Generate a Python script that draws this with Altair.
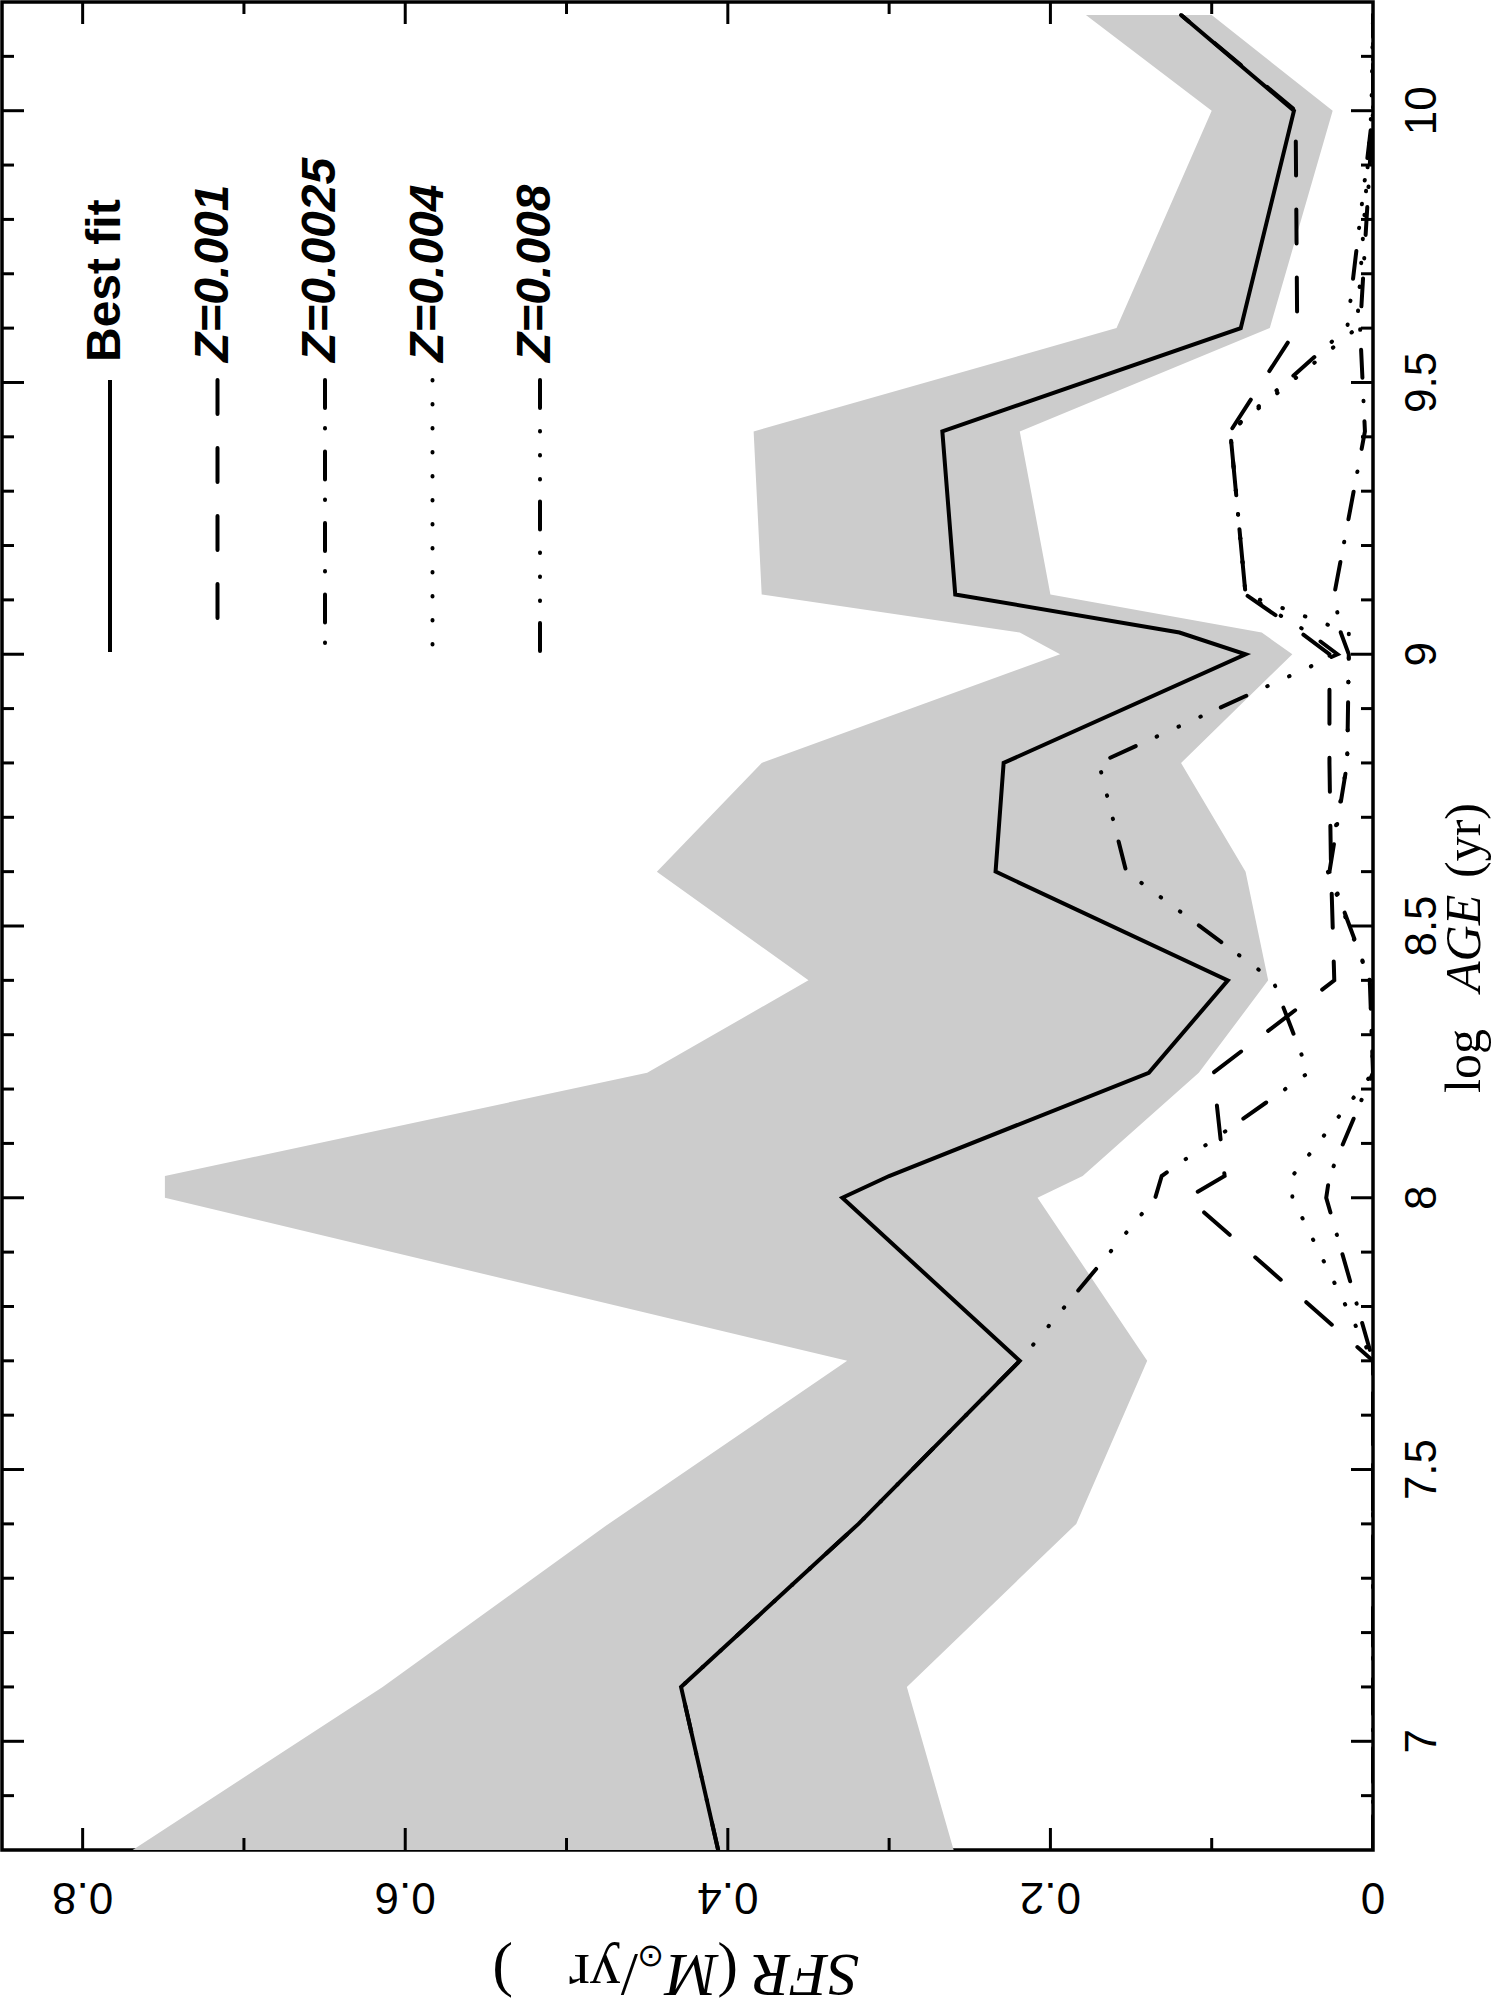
import altair as alt
import pandas as pd

# ---------------- data ----------------
AGES = [6.8, 7.1, 7.4, 7.7, 8.0, 8.04, 8.23, 8.4, 8.6, 8.8, 9.0, 9.04, 9.11, 9.41, 9.6, 10.0, 10.176]
BEST_FIT = [0.406, 0.429, 0.319, 0.219, 0.329, 0.300, 0.139, 0.090, 0.234, 0.229, 0.079, 0.120, 0.259, 0.267, 0.082, 0.049, 0.119]
BAND_HIGH = [0.769, 0.614, 0.474, 0.326, 0.749, 0.749, 0.450, 0.350, 0.444, 0.379, 0.194, 0.219, 0.379, 0.384, 0.159, 0.100, 0.178]
BAND_LOW = [0.260, 0.289, 0.184, 0.140, 0.208, 0.180, 0.108, 0.065, 0.079, 0.119, 0.050, 0.069, 0.200, 0.219, 0.064, 0.025, 0.100]
Z_0001 = [0.0, 0.0, 0.0, 0.0, 0.115, 0.092, 0.099, 0.024, 0.026, 0.027, 0.027, 0.045, 0.079, 0.0885, 0.047, 0.048, 0.119]
Z_00025 = [0.0, 0.0, 0.0, 0.0, 0.029, 0.027, 0.0, 0.002, 0.027, 0.016, 0.015, 0.020, 0.024, 0.005, 0.008, 0.0, 0.0]
Z_0004 = [0.0, 0.0, 0.0, 0.0, 0.050, 0.050, 0.0, 0.002, 0.028, 0.016, 0.015, 0.015, 0.079, 0.0885, 0.010, 0.001, 0.0]
Z_0008 = [0.406, 0.429, 0.319, 0.219, 0.135, 0.131, 0.040, 0.062, 0.153, 0.170, 0.022, 0.040, 0.079, 0.0885, 0.016, 0.0, 0.0]

SFR_LABELS = [0.0, 0.2, 0.4, 0.6, 0.8]
SFR_MAJOR = [0.2, 0.4, 0.6, 0.8]
SFR_MINOR = [0.1, 0.3, 0.5, 0.7]
AGE_LABELS = [7.0, 7.5, 8.0, 8.5, 9.0, 9.5, 10.0]
AGE_MINOR = [6.9, 7.1, 7.2, 7.3, 7.4, 7.6, 7.7, 7.8, 7.9, 8.1, 8.2, 8.3, 8.4, 8.6, 8.7, 8.8,
             8.9, 9.1, 9.2, 9.3, 9.4, 9.6, 9.7, 9.8, 9.9, 10.1]

LEGEND_LABELS = ["Best fit", "Z=0.001", "Z=0.0025", "Z=0.004", "Z=0.008"]

# ---------------- layout / style ----------------
W, H = 1371, 1848
TOTAL_W, TOTAL_H = 1493, 2016
SANS = "Liberation Sans"
SERIF = "Liberation Serif"
LW = 4
DASHES = {
    "Best fit": None,
    "Z=0.001": [34, 34],
    "Z=0.0025": [28, 20, 0.5, 23],
    "Z=0.004": [0.5, 23.5],
    "Z=0.008": [28, 23, 0.5, 23.5, 0.5, 23.5, 0.5, 22],
}

xscale = alt.Scale(domain=[0, 0.85], reverse=True, nice=False, zero=False)
yscale = alt.Scale(domain=[6.8, 10.2], nice=False, zero=False)

band_df = pd.DataFrame({"age": AGES, "lo": BAND_LOW, "hi": BAND_HIGH})

band = alt.Chart(band_df).mark_area(color="#cccccc", orient="horizontal").encode(
    y=alt.Y("age:Q", scale=yscale, axis=None),
    x=alt.X("lo:Q", scale=xscale, axis=None),
    x2="hi:Q",
)

series = [("Z=0.001", Z_0001), ("Z=0.0025", Z_00025), ("Z=0.004", Z_0004),
          ("Z=0.008", Z_0008), ("Best fit", BEST_FIT)]

line_layers = []
for name, vals in series:
    df = pd.DataFrame({"age": AGES, "sfr": vals})
    kw = dict(color="black", strokeWidth=LW, clip=True)
    if DASHES[name] is not None:
        kw["strokeDash"] = DASHES[name]
        kw["strokeCap"] = "round"
    line_layers.append(
        alt.Chart(df).mark_line(**kw).encode(
            x=alt.X("sfr:Q", scale=xscale, axis=None),
            y=alt.Y("age:Q", scale=yscale, axis=None),
            order="age:Q",
        )
    )

# inward ticks on all four sides
def xticks(vals, length):
    df = pd.DataFrame({"v": vals})
    bot = alt.Chart(df).mark_rule(color="black", strokeWidth=3).encode(
        x=alt.X("v:Q", scale=xscale, axis=None), y=alt.value(H), y2=alt.value(H - length))
    top = alt.Chart(df).mark_rule(color="black", strokeWidth=3).encode(
        x=alt.X("v:Q", scale=xscale, axis=None), y=alt.value(0), y2=alt.value(length))
    return [bot, top]

def yticks(vals, length):
    df = pd.DataFrame({"v": vals})
    left = alt.Chart(df).mark_rule(color="black", strokeWidth=3).encode(
        y=alt.Y("v:Q", scale=yscale, axis=None), x=alt.value(0), x2=alt.value(length))
    right = alt.Chart(df).mark_rule(color="black", strokeWidth=3).encode(
        y=alt.Y("v:Q", scale=yscale, axis=None), x=alt.value(W), x2=alt.value(W - length))
    return [left, right]

tick_layers = (xticks(SFR_MAJOR, 22) + xticks(SFR_MINOR, 12) +
               yticks(AGE_LABELS, 22) + yticks(AGE_MINOR, 12))

# tick labels (rotated like the reference), placed through the scales
xlab_df = pd.DataFrame({"v": SFR_LABELS, "t": [f"{v:g}" for v in SFR_LABELS]})
xlabels = alt.Chart(xlab_df).mark_text(angle=180, align="center", baseline="middle",
                                       font=SANS, fontSize=44, color="black").encode(
    x=alt.X("v:Q", scale=xscale, axis=None), y=alt.value(H + 46), text="t:N")
ylab_df = pd.DataFrame({"v": AGE_LABELS, "t": [f"{v:g}" for v in AGE_LABELS]})
ylabels = alt.Chart(ylab_df).mark_text(angle=270, align="center", baseline="middle",
                                       font=SANS, fontSize=44, color="black").encode(
    y=alt.Y("v:Q", scale=yscale, axis=None), x=alt.value(W + 50), text="t:N")

# legend (rotated, upper-left corner)
legend_layers = []
for i, name in enumerate(LEGEND_LABELS):
    lx = 108 + i * 107.5
    kw = dict(color="black", strokeWidth=LW)
    if DASHES[name] is not None:
        kw["strokeDash"] = DASHES[name]
        kw["strokeCap"] = "round"
    legend_layers.append(
        alt.Chart(pd.DataFrame({"k": [name]})).mark_rule(**kw).encode(
            x=alt.value(lx), y=alt.value(378), y2=alt.value(650)))
    tkw = dict(angle=270, align="left", baseline="middle", font=SANS, fontSize=48,
               color="black", fontWeight="bold")
    if name != "Best fit":
        tkw["fontStyle"] = "italic"
    legend_layers.append(
        alt.Chart(pd.DataFrame({"k": [name]})).mark_text(**tkw).encode(
            x=alt.value(lx - 4), y=alt.value(360), text="k:N"))

# axis titles built from pieces (rotated like the reference)
def piece(txt, x, y, angle, size=62, italic=False):
    kw = dict(angle=angle, align="left", baseline="middle", font=SERIF, fontSize=size, color="black")
    if italic:
        kw["fontStyle"] = "italic"
    return alt.Chart(pd.DataFrame({"t": [txt]})).mark_text(**kw).encode(
        x=alt.value(x), y=alt.value(y), text="t:N")

TY = H + 124
YX = W + 92
title_layers = [
    # y title: reads bottom-to-top on the right
    piece("log", YX, 1091, 270, size=50),
    piece("AGE", YX, 990, 270, size=50, italic=True),
    piece("(yr)", YX, 876, 270, size=50),
    # x title: upside-down below the plot
    piece("SFR", 857, TY, 180, italic=True),
    piece("(", 736, TY, 180),
    piece("M", 716, TY, 180, italic=True),
    piece("\u2299", 662, TY - 18, 180, size=32),
    piece("/yr", 636, TY, 180),
    piece(")", 511, TY, 180),
]

chart = alt.layer(band, *line_layers, *tick_layers, xlabels, ylabels,
                  *legend_layers, *title_layers).properties(
    width=W, height=H, background="white",
    padding={"left": 2, "top": 2, "right": TOTAL_W - W - 2, "bottom": TOTAL_H - H - 2},
    autosize=alt.AutoSizeParams(type="none"),
).configure_view(stroke="black", strokeWidth=3.5)

chart.save("out.html", embed_options={"renderer": "svg", "actions": False})
